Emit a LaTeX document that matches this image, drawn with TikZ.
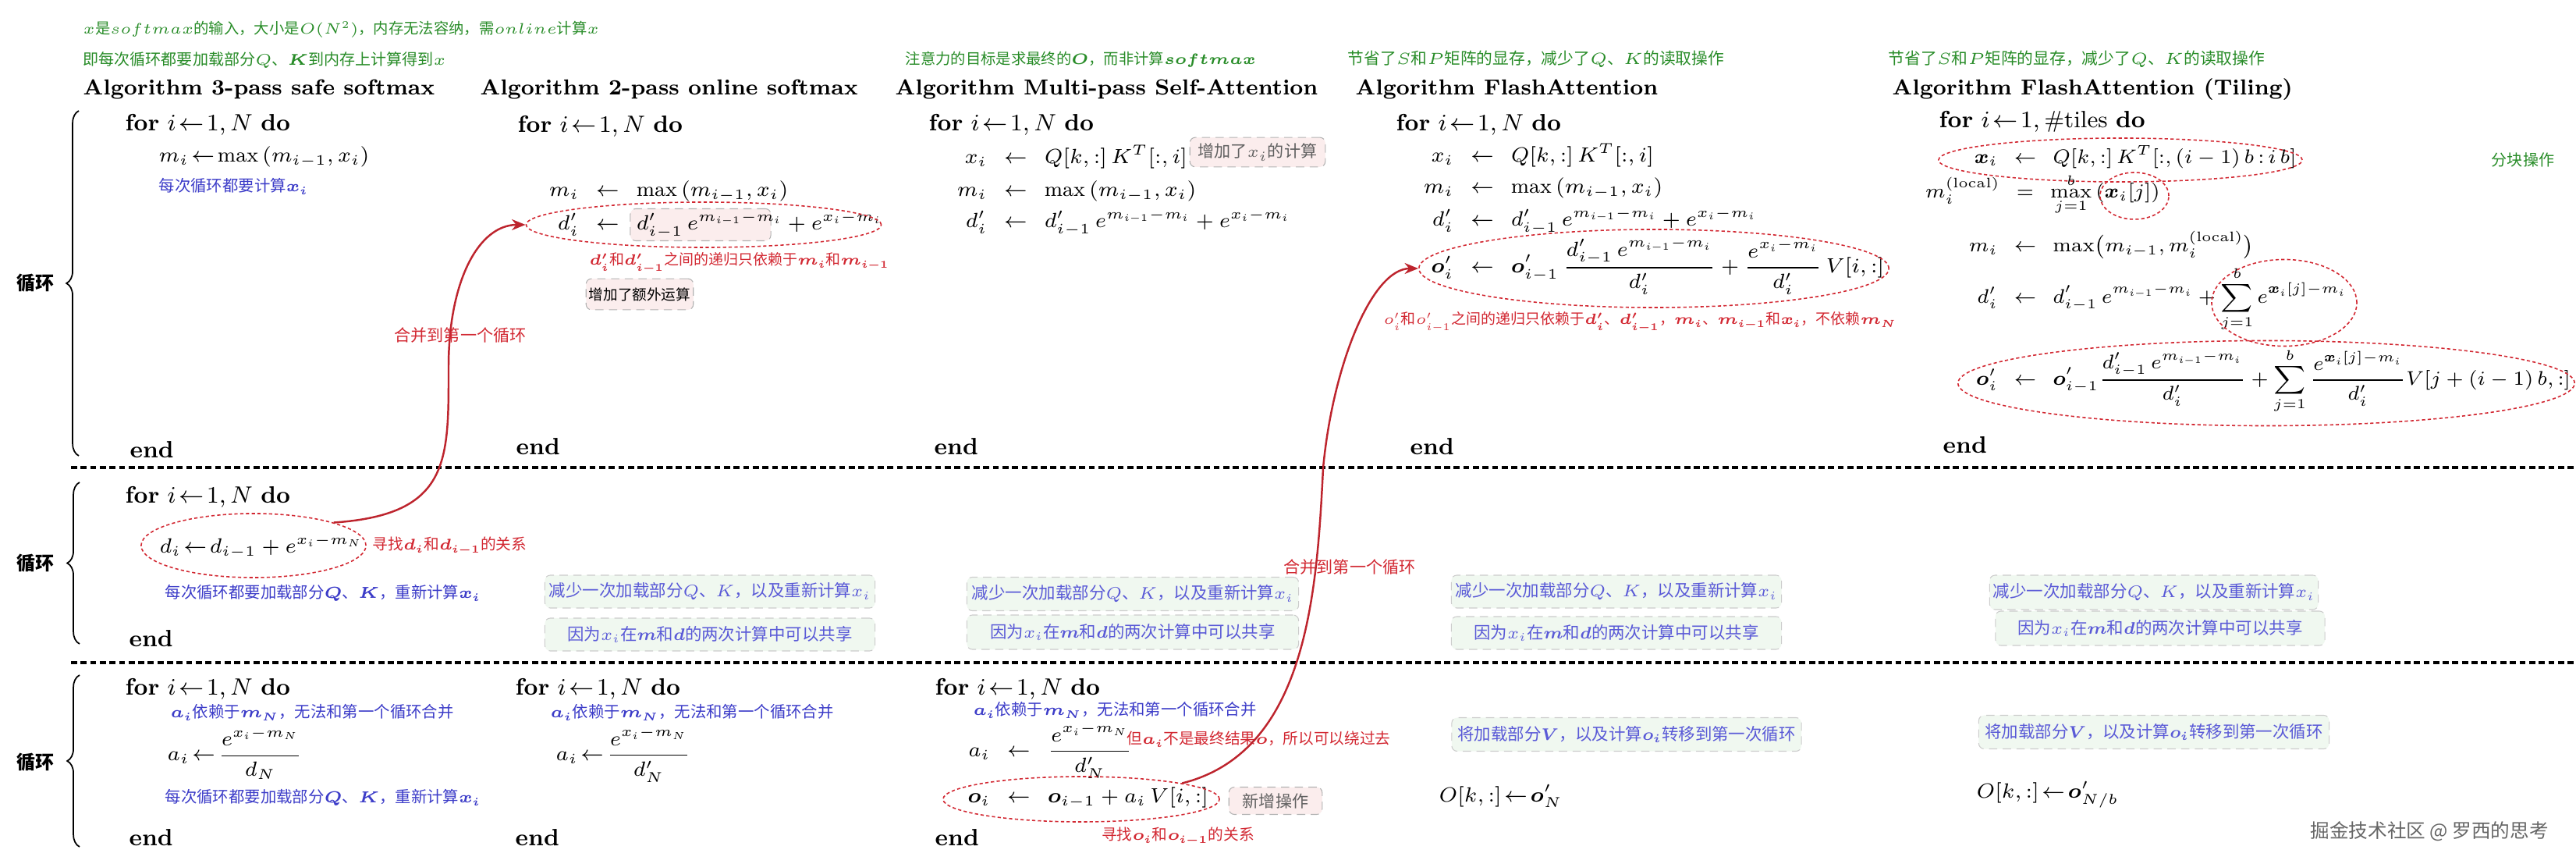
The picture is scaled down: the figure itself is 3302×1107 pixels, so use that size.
\RequirePackage{fix-cm}
\documentclass[tikz,border=0pt]{standalone}
\usepackage{amsmath,amssymb,mathtools}
\usepackage{fontspec}
\newfontfamily\cjk{Noto Sans CJK SC}
\usetikzlibrary{shapes.geometric,arrows.meta,decorations.pathreplacing}
\definecolor{notegreen}{RGB}{40,140,40}
\definecolor{noteblue}{RGB}{60,60,200}
\definecolor{notered}{RGB}{210,40,50}
\definecolor{boxblue}{RGB}{90,90,215}
\definecolor{pinkfill}{RGB}{251,237,237}
\definecolor{greenfill}{RGB}{240,248,240}
\begin{document}
\begin{tikzpicture}[x=0.01cm,y=-0.01cm,
  algo/.style={font=\fontsize{8.6}{10}\selectfont,inner sep=0pt},
  eqn/.style={font=\fontsize{7.5}{9}\selectfont,inner sep=0pt},
  eqnt/.style={font=\fontsize{7.2}{9}\selectfont,inner sep=0pt},
  ttl/.style={font=\fontsize{7.9}{10}\selectfont\bfseries,anchor=west,inner sep=0pt},
  gnote/.style={font=\fontsize{5.7}{7}\selectfont\cjk,text=notegreen,anchor=west,inner sep=0pt},
  bnote/.style={font=\fontsize{5.8}{7}\selectfont\cjk,text=noteblue,anchor=west,inner sep=0pt},
  rnote/.style={font=\fontsize{5.6}{7}\selectfont\cjk,text=notered,anchor=west,inner sep=0pt},
  pinkbox/.style={draw=gray!60,densely dashed,line width=0.3pt,fill=pinkfill,rounded corners=2pt,
    font=\fontsize{6}{7}\selectfont\cjk,text=gray!75!black,inner xsep=3pt,inner ysep=2.2pt},
  greenbox/.style={draw=gray!40,densely dashed,line width=0.3pt,fill=greenfill,rounded corners=2pt,
    font=\fontsize{6.1}{7}\selectfont\cjk,text=boxblue,minimum width=4.23cm,minimum height=0.42cm,inner sep=1pt},
  redell/.style={ellipse,draw=notered,dash pattern=on 1.2pt off 0.9pt,line width=0.45pt,inner sep=0pt},
  merge/.style={-{Stealth[length=5pt,width=4pt]},draw=notered!90!black,line width=0.7pt},
  sepline/.style={dash pattern=on 2.2pt off 1.3pt,line width=0.9pt},
  loopbrace/.style={decorate,decoration={brace,amplitude=4.5pt},line width=0.5pt},
  looplbl/.style={font=\fontsize{6.8}{8}\selectfont\cjk\bfseries}]
\useasboundingbox (0,0) rectangle (3302,1107);

% notes on top
\node[gnote,font=\fontsize{5.5}{7}\selectfont\cjk] (topA) at (106,38) {$x$是$softmax$的输入，大小是$O(N^2)$，内存无法容纳，需$online$计算$x$};
\node[gnote] (topB) at (106,77) {即每次循环都要加载部分$Q$、$\boldsymbol{K}$到内存上计算得到$x$};
\node[gnote,font=\fontsize{5.5}{7}\selectfont\cjk] (topC) at (1160,76) {注意力的目标是求最终的$\boldsymbol{O}$，而非计算$\boldsymbol{softmax}$};
\node[gnote,font=\fontsize{5.9}{7}\selectfont\cjk] (topD) at (1727,76) {节省了$S$和$P$矩阵的显存，减少了$Q$、$K$的读取操作};
\node[gnote,font=\fontsize{5.9}{7}\selectfont\cjk] (topE) at (2420,76) {节省了$S$和$P$矩阵的显存，减少了$Q$、$K$的读取操作};

% titles
\node[ttl] (ttlA) at (106,115) {Algorithm 3-pass safe softmax};
\node[ttl] (ttlB) at (615,115) {Algorithm 2-pass online softmax};
\node[ttl] (ttlC) at (1147,115) {Algorithm Multi-pass Self-Attention};
\node[ttl] (ttlD) at (1737,115) {Algorithm FlashAttention};
\node[ttl] (ttlE) at (2425,115) {Algorithm FlashAttention (Tiling)};

% first loop
\draw[loopbrace] (101,584) -- (101,142);
\node[looplbl] (lpA) at (45,363) {循环};
\node[algo,anchor=west] (forA1) at (160,160) {\textbf{for} $i\!\leftarrow\!1,N$ \textbf{do}};
\node[eqn,anchor=west] (mA1) at (203,201) {$m_i\!\leftarrow\!\max\,(m_{i-1},x_i)$};
\node[bnote] (nA1) at (203,239) {每次循环都要计算$\boldsymbol{x_i}$};
\node[algo,anchor=west] (endA1) at (166,576) {\textbf{end}};

\node[algo,anchor=west] (forB1) at (663,162) {\textbf{for} $i\!\leftarrow\!1,N$ \textbf{do}};
\node[eqn] (mB1) at (779,245) {$\mathllap{m_i\enspace}\leftarrow\mathrlap{\enspace\max\,(m_{i-1},x_i)}$};
\node[pinkbox,minimum width=1.80cm,minimum height=0.41cm,inner sep=0pt] (hlB1) at (898,288) {};
\node[eqn] (dB1) at (779,288) {$\mathllap{d'_i\enspace}\leftarrow\mathrlap{\enspace d'_{i-1}\,e^{m_{i-1}-m_i}+e^{x_i-m_i}}$};
\node[redell,minimum width=4.55cm,minimum height=0.58cm] (dpEll) at (902,288) {};
\node[rnote,font=\fontsize{5.4}{7}\selectfont\cjk] (rB1) at (755,337) {$\boldsymbol{d'_i}$和$\boldsymbol{d'_{i-1}}$之间的递归只依赖于$\boldsymbol{m_i}$和$\boldsymbol{m_{i-1}}$};
\node[pinkbox,font=\fontsize{5.3}{6}\selectfont\cjk,text=black,inner xsep=1pt,inner ysep=3.2pt] (xtraB1) at (820,377) {增加了额外运算};
\node[algo,anchor=west] (endB1) at (661,572) {\textbf{end}};

\node[algo,anchor=west] (forC1) at (1190,160) {\textbf{for} $i\!\leftarrow\!1,N$ \textbf{do}};
\node[eqn] (xC1) at (1302,201) {$\mathllap{x_i\enspace}\leftarrow\mathrlap{\enspace Q[k,:]\,K^T[:,i]}$};
\node[eqn] (mC1) at (1302,245) {$\mathllap{m_i\enspace}\leftarrow\mathrlap{\enspace\max\,(m_{i-1},x_i)}$};
\node[eqn] (dC1) at (1302,285) {$\mathllap{d'_i\enspace}\leftarrow\mathrlap{\enspace d'_{i-1}\,e^{m_{i-1}-m_i}+e^{x_i-m_i}}$};
\node[pinkbox] (xtraC1) at (1612,195) {增加了$x_i$的计算};
\node[algo,anchor=west] (endC1) at (1197,572) {\textbf{end}};

\node[algo,anchor=west] (forD1) at (1789,160) {\textbf{for} $i\!\leftarrow\!1,N$ \textbf{do}};
\node[eqn] (xD1) at (1900,199) {$\mathllap{x_i\enspace}\leftarrow\mathrlap{\enspace Q[k,:]\,K^T[:,i]}$};
\node[eqn] (mD1) at (1900,241) {$\mathllap{m_i\enspace}\leftarrow\mathrlap{\enspace\max\,(m_{i-1},x_i)}$};
\node[eqn] (dD1) at (1900,283) {$\mathllap{d'_i\enspace}\leftarrow\mathrlap{\enspace d'_{i-1}\,e^{m_{i-1}-m_i}+e^{x_i-m_i}}$};
\node[eqn] (oD1) at (1900,341) {$\mathllap{\boldsymbol{o}'_i\enspace}\leftarrow\mathrlap{\enspace\displaystyle\boldsymbol{o}'_{i-1}\,\frac{d'_{i-1}\,e^{m_{i-1}-m_i}}{d'_i}+\frac{e^{x_i-m_i}}{d'_i}\,V[i,:]}$};
\node[redell,minimum width=6.02cm,minimum height=1.0cm] (opEll) at (2120,344) {};
\node[rnote,font=\fontsize{5.4}{7}\selectfont\cjk] (rD1) at (1773,413) {$o'_i$和$o'_{i-1}$之间的递归只依赖于$\boldsymbol{d'_i}$、$\boldsymbol{d'_{i-1}}$，$\boldsymbol{m_i}$、$\boldsymbol{m_{i-1}}$和$\boldsymbol{x_i}$，不依赖$\boldsymbol{m_N}$};
\node[algo,anchor=west] (endD1) at (1807,572) {\textbf{end}};

\node[algo,anchor=west] (forE1) at (2485,156) {\textbf{for} $i\!\leftarrow\!1,\#\text{tiles}$ \textbf{do}};
\node[eqnt] (xE1) at (2596,201) {$\mathllap{\boldsymbol{x}_i\enspace}\leftarrow\mathrlap{\enspace Q[k,:]\,K^T[:,(i-1)\,b\,{:}\,i\,b]}$};
\node[redell,minimum width=4.66cm,minimum height=0.56cm] (xEll) at (2718,205) {};
\node[eqnt] (lE1) at (2596,249) {$\mathllap{m_i^{(\mathrm{local})}\enspace}=\mathrlap{\enspace\displaystyle\max_{j=1}^{b}\,(\boldsymbol{x}_i[j])}$};
\node[redell,minimum width=0.88cm,minimum height=0.60cm] (xjEll) at (2736,251) {};
\node[eqnt] (mE1) at (2596,314) {$\mathllap{m_i\enspace}\leftarrow\mathrlap{\enspace\max\bigl(m_{i-1},m_i^{(\mathrm{local})}\bigr)}$};
\node[eqnt] (dE1) at (2596,383) {$\mathllap{d'_i\enspace}\leftarrow\mathrlap{\enspace\displaystyle d'_{i-1}\,e^{m_{i-1}-m_i}+\sum_{j=1}^{b}e^{\boldsymbol{x}_i[j]-m_i}}$};
\node[redell,minimum width=1.86cm,minimum height=1.11cm] (sumEll) at (2928,388) {};
\node[eqnt] (oE1) at (2596,488) {$\mathllap{\boldsymbol{o}'_i\enspace}\leftarrow\mathrlap{\enspace\displaystyle\boldsymbol{o}'_{i-1}\frac{d'_{i-1}\,e^{m_{i-1}-m_i}}{d'_i}+\sum_{j=1}^{b}\frac{e^{\boldsymbol{x}_i[j]-m_i}}{d'_i}V[j+(i-1)\,b,:]}$};
\node[redell,minimum width=7.90cm,minimum height=1.09cm] (otEll) at (2905,491) {};
\node[gnote,anchor=center] (tileE1) at (3234,205) {分块操作};
\node[algo,anchor=west] (endE1) at (2490,570) {\textbf{end}};

% second loop
\draw[sepline] (91,599) -- (3302,599);
\draw[loopbrace] (102,825) -- (102,618);
\node[looplbl] (lpB) at (45,722) {循环};
\node[algo,anchor=west] (forA2) at (160,637) {\textbf{for} $i\!\leftarrow\!1,N$ \textbf{do}};
\node[eqn,anchor=west] (dA2) at (204,700) {$d_i\!\leftarrow\!d_{i-1}+e^{x_i-m_N}$};
\node[redell,minimum width=2.88cm,minimum height=0.82cm] (dEll) at (325,699) {};
\node[rnote] (rA2) at (477,700) {寻找$\boldsymbol{d_i}$和$\boldsymbol{d_{i-1}}$的关系};
\node[bnote] (nA2) at (211,760) {每次循环都要加载部分$\boldsymbol{Q}$、$\boldsymbol{K}$，重新计算$\boldsymbol{x_i}$};
\node[algo,anchor=west] (endA2) at (165,818) {\textbf{end}};

\node[greenbox] (gB2a) at (910,758) {减少一次加载部分$Q$、$K$，以及重新计算$x_i$};
\node[greenbox] (gB2b) at (910,813) {因为$x_i$在$\boldsymbol{m}$和$\boldsymbol{d}$的两次计算中可以共享};
\node[greenbox,minimum width=4.25cm,minimum height=0.43cm] (gC2a) at (1452,761) {减少一次加载部分$Q$、$K$，以及重新计算$x_i$};
\node[greenbox,minimum width=4.25cm,minimum height=0.44cm] (gC2b) at (1452,810) {因为$x_i$在$\boldsymbol{m}$和$\boldsymbol{d}$的两次计算中可以共享};
\node[greenbox] (gD2a) at (2072,758) {减少一次加载部分$Q$、$K$，以及重新计算$x_i$};
\node[greenbox] (gD2b) at (2072,811) {因为$x_i$在$\boldsymbol{m}$和$\boldsymbol{d}$的两次计算中可以共享};
\node[greenbox,minimum width=4.21cm,minimum height=0.44cm] (gE2a) at (2761,759) {减少一次加载部分$Q$、$K$，以及重新计算$x_i$};
\node[greenbox,minimum width=4.22cm,minimum height=0.44cm] (gE2b) at (2769,805) {因为$x_i$在$\boldsymbol{m}$和$\boldsymbol{d}$的两次计算中可以共享};

% third loop
\draw[sepline] (91,849) -- (3302,849);
\draw[loopbrace] (102,1085) -- (102,865);
\node[looplbl] (lpC) at (45,977) {循环};
\node[algo,anchor=west] (forA3) at (160,883) {\textbf{for} $i\!\leftarrow\!1,N$ \textbf{do}};
\node[bnote] (nA3) at (218,913) {$\boldsymbol{a_i}$依赖于$\boldsymbol{m_N}$，无法和第一个循环合并};
\node[eqn,anchor=west] (aA3) at (214,965) {$a_i\!\leftarrow\!\dfrac{e^{x_i-m_N}}{d_N}$};
\node[bnote] (mA3) at (211,1022) {每次循环都要加载部分$\boldsymbol{Q}$、$\boldsymbol{K}$，重新计算$\boldsymbol{x_i}$};
\node[algo,anchor=west] (endA3) at (165,1073) {\textbf{end}};

\node[algo,anchor=west] (forB3) at (660,883) {\textbf{for} $i\!\leftarrow\!1,N$ \textbf{do}};
\node[bnote] (nB3) at (705,913) {$\boldsymbol{a_i}$依赖于$\boldsymbol{m_N}$，无法和第一个循环合并};
\node[eqn,anchor=west] (aB3) at (712,967) {$a_i\!\leftarrow\!\dfrac{e^{x_i-m_N}}{d'_N}$};
\node[algo,anchor=west] (endB3) at (660,1073) {\textbf{end}};

\node[algo,anchor=west] (forC3) at (1198,883) {\textbf{for} $i\!\leftarrow\!1,N$ \textbf{do}};
\node[bnote] (nC3) at (1247,910) {$\boldsymbol{a_i}$依赖于$\boldsymbol{m_N}$，无法和第一个循环合并};
\node[eqn] (aC3) at (1306,962) {$\mathllap{a_i\enspace}\leftarrow\mathrlap{\enspace\dfrac{e^{x_i-m_N}}{d'_N}}$};
\node[rnote] (rC3) at (1444,947) {但$\boldsymbol{a_i}$不是最终结果$\boldsymbol{o}$，所以可以绕过去};
\node[eqn] (oC3) at (1306,1022) {$\mathllap{\boldsymbol{o}_i\enspace}\leftarrow\mathrlap{\enspace\boldsymbol{o}_{i-1}+a_i\,V[i,:]}$};
\node[redell,minimum width=3.54cm,minimum height=0.58cm] (oEll) at (1386,1024) {};
\node[pinkbox,inner xsep=5pt] (newC3) at (1635,1026) {新增操作};
\node[rnote,anchor=center] (fC3) at (1510,1072) {寻找$\boldsymbol{o_i}$和$\boldsymbol{o_{i-1}}$的关系};
\node[algo,anchor=west] (endC3) at (1198,1073) {\textbf{end}};

\node[greenbox,minimum width=4.48cm,minimum height=0.43cm] (gD3) at (2085,941) {将加载部分$\boldsymbol{V}$，以及计算$\boldsymbol{o_i}$转移到第一次循环};
\node[eqn,anchor=west] (outD3) at (1844,1020) {$O[k,:]\!\leftarrow\!\boldsymbol{o}'_N$};
\node[greenbox,minimum width=4.49cm,minimum height=0.43cm] (gE3) at (2761,938) {将加载部分$\boldsymbol{V}$，以及计算$\boldsymbol{o_i}$转移到第一次循环};
\node[eqn,anchor=west] (outE3) at (2533,1018) {$O[k,:]\!\leftarrow\!\boldsymbol{o}'_{N/b}$};
\node[anchor=west,inner sep=0pt,font=\fontsize{7}{8}\selectfont\cjk,text=gray!80!black] (mark) at (2961,1065) {掘金技术社区 @ 罗西的思考};

% merge arrows
\coordinate (bendA) at (575,470);
\draw[merge] (dEll.16) .. controls +(150,-10) and +(0,120) .. (bendA) .. controls +(0,-110) and +(-60,0) .. (dpEll.west);
\node[font=\fontsize{6}{7}\selectfont\cjk,text=notered] (mgA) at (590,430) {合并到第一个循环};
\coordinate (bendB) at (1696,600);
\draw[merge] (oEll.9) .. controls +(160,-40) and +(-8,160) .. (bendB) .. controls +(12,-130) and +(-60,0) .. (opEll.west);
\node[font=\fontsize{6}{7}\selectfont\cjk,text=notered] (mgB) at (1730,727) {合并到第一个循环};
\end{tikzpicture}
\end{document}
